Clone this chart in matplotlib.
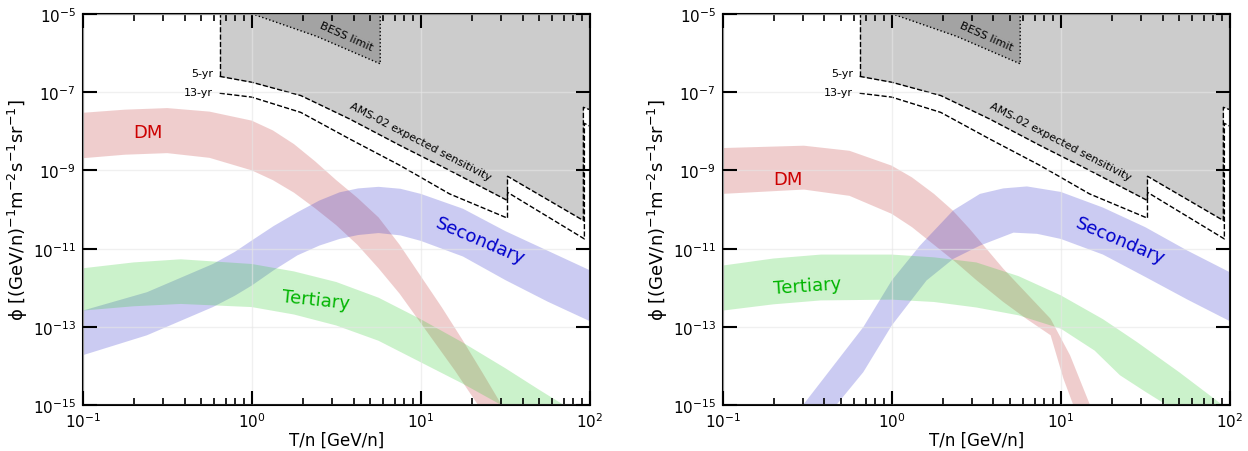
import numpy as np
import matplotlib
matplotlib.use("Agg")
import matplotlib.pyplot as plt
from matplotlib.ticker import LogLocator, NullLocator, NullFormatter, FixedLocator

# all curves stored as log10(T/n [GeV/n]) and log10(flux)

# ---- left panel bands ----
L_dm_up_x = [-1.0, -0.75, -0.5, -0.25, 0.0, 0.125, 0.25, 0.375, 0.5, 0.625, 0.75, 0.875, 1.0, 1.125, 1.25, 1.37, 1.48, 1.55]
L_dm_up_y = [-7.53, -7.45, -7.41, -7.50, -7.73, -7.98, -8.33, -8.77, -9.25, -9.7, -10.2, -10.9, -11.7, -12.5, -13.35, -14.2, -15.0, -15.5]
L_dm_lo_x = [-1.0, -0.75, -0.5, -0.25, 0.0, 0.125, 0.25, 0.375, 0.5, 0.625, 0.75, 0.875, 1.0, 1.1, 1.2, 1.34, 1.45]
L_dm_lo_y = [-8.69, -8.6, -8.56, -8.68, -9.0, -9.25, -9.57, -9.97, -10.4, -10.9, -11.5, -12.15, -12.9, -13.5, -14.1, -15.0, -15.6]

L_sec_up_x = [-1.0, -0.62, -0.23, -0.1, 0.0, 0.13, 0.27, 0.4, 0.52, 0.63, 0.75, 0.88, 1.0, 1.25, 1.5, 1.75, 2.0]
L_sec_up_y = [-12.58, -12.11, -11.39, -11.08, -10.79, -10.42, -10.07, -9.77, -9.56, -9.46, -9.42, -9.47, -9.6, -9.98, -10.55, -11.05, -11.55]
L_sec_lo_x = [-1.0, -0.62, -0.23, -0.1, 0.0, 0.13, 0.27, 0.4, 0.52, 0.63, 0.75, 0.88, 1.0, 1.25, 1.5, 1.75, 2.0]
L_sec_lo_y = [-13.72, -13.21, -12.49, -12.2, -11.94, -11.55, -11.17, -10.92, -10.75, -10.65, -10.6, -10.66, -10.8, -11.2, -11.8, -12.35, -12.85]

L_ter_up_x = [-1.0, -0.7, -0.42, 0.0, 0.25, 0.5, 0.75, 1.0, 1.25, 1.5, 1.7, 1.85, 2.0]
L_ter_up_y = [-11.5, -11.35, -11.27, -11.39, -11.58, -11.85, -12.25, -12.8, -13.4, -14.05, -14.6, -15.0, -15.4]
L_ter_lo_x = [-1.0, -0.7, -0.42, 0.0, 0.25, 0.5, 0.75, 1.0, 1.25, 1.48, 1.6]
L_ter_lo_y = [-12.58, -12.47, -12.41, -12.49, -12.68, -12.96, -13.35, -13.9, -14.45, -15.0, -15.4]

# ---- right panel bands ----
R_dm_up_x = [-1.0, -0.52, -0.25, 0.0, 0.12, 0.25, 0.36, 0.46, 0.56, 0.66, 0.8, 0.94, 1.055, 1.174, 1.25]
R_dm_up_y = [-8.43, -8.37, -8.5, -8.88, -9.18, -9.6, -10.02, -10.49, -11.0, -11.51, -12.15, -12.79, -13.72, -15.0, -15.7]
R_dm_lo_x = [-1.0, -0.52, -0.25, 0.0, 0.12, 0.25, 0.38, 0.5, 0.66, 0.8, 0.94, 1.016, 1.075, 1.15]
R_dm_lo_y = [-9.6, -9.49, -9.65, -10.11, -10.45, -10.9, -11.35, -11.8, -12.36, -12.8, -13.21, -14.32, -15.0, -15.7]

R_sec_up_x = [-0.6, -0.523, -0.168, 0.0, 0.167, 0.364, 0.522, 0.66, 0.8, 1.0, 1.25, 1.5, 1.75, 2.0]
R_sec_up_y = [-15.5, -14.98, -13.0, -11.81, -10.92, -10.02, -9.6, -9.46, -9.41, -9.55, -9.95, -10.45, -11.05, -11.6]
R_sec_lo_x = [-0.4, -0.326, -0.168, 0.0, 0.206, 0.364, 0.522, 0.72, 0.86, 1.0, 1.25, 1.5, 1.75, 2.0]
R_sec_lo_y = [-15.5, -14.98, -14.15, -12.96, -11.81, -11.26, -10.92, -10.59, -10.62, -10.75, -11.15, -11.72, -12.3, -12.85]

R_ter_up_x = [-1.0, -0.7, -0.42, 0.0, 0.25, 0.5, 0.75, 1.0, 1.25, 1.45, 1.7, 1.96, 2.05]
R_ter_up_y = [-11.43, -11.25, -11.15, -11.15, -11.22, -11.35, -11.7, -12.19, -12.8, -13.38, -14.15, -15.0, -15.3]
R_ter_lo_x = [-1.0, -0.7, -0.42, 0.0, 0.25, 0.5, 0.75, 1.0, 1.2, 1.35, 1.5, 1.63, 1.75]
R_ter_lo_y = [-12.58, -12.42, -12.32, -12.3, -12.36, -12.5, -12.7, -13.04, -13.6, -14.23, -14.65, -15.0, -15.4]

# ---- AMS-02 sensitivity and BESS limit (same in both panels) ----
ams5_x = [-0.19, 0.0, 0.29, 0.58, 0.88, 1.17, 1.513, 1.513, 1.962, 1.962, 2.0]
ams5_y = [-6.60, -6.75, -7.09, -7.69, -8.37, -9.0, -9.77, -9.15, -10.28, -7.39, -7.45]
ams13_x = [-0.19, 0.0, 0.29, 0.58, 0.88, 1.17, 1.513, 1.513, 1.968, 1.968, 2.0]
ams13_y = [-7.03, -7.13, -7.52, -8.20, -8.88, -9.60, -10.22, -9.56, -10.75, -7.8, -7.87]

bess_x = [0.0, 0.385, 0.76, 0.76]
bess_y = [-5.0, -5.58, -6.28, -5.0]

yticks = [-15, -13, -11, -9, -7, -5]

c_dm = 'indianred'
c_sec = '#3333cc'
c_ter = '#33cc33'


def band(ax, ux, uy, lx, ly, color, alpha):
    xs = np.concatenate([ux, lx[::-1]])
    ys = np.concatenate([uy, ly[::-1]])
    ax.fill(10.0 ** xs, 10.0 ** ys, color=color, alpha=alpha, lw=0)


def setup(ax, bands, labels):
    ax.set_xscale('log')
    ax.set_yscale('log')

    # AMS-02 shaded region + BESS limit
    x5 = 10.0 ** np.array(ams5_x)
    y5 = 10.0 ** np.array(ams5_y)
    ax.fill_between(x5, y5, 1e-5, color='0.8', lw=0)
    ax.fill(10.0 ** np.array(bess_x), 10.0 ** np.array(bess_y), color='0.64', lw=0)
    ax.plot(10.0 ** np.array(bess_x), 10.0 ** np.array(bess_y), 'k:', lw=1)
    ax.plot(x5, y5, 'k--', lw=1)
    ax.plot([x5[0], x5[0]], [y5[0], 1e-5], 'k--', lw=1)
    ax.plot(10.0 ** np.array(ams13_x), 10.0 ** np.array(ams13_y), 'k--', lw=1)

    for b in bands:
        band(ax, *b)

    ax.text(10 ** -0.23, 10 ** -6.51, '5-yr', ha='right', va='center', fontsize=8)
    ax.text(10 ** -0.23, 10 ** -6.99, '13-yr', ha='right', va='center', fontsize=8)
    ax.text(10 ** 0.56, 10 ** -5.56, 'BESS limit', ha='center', va='center',
            fontsize=8, rotation=-24)
    ax.text(10 ** 1.0, 10 ** -8.24, 'AMS-02 expected sensitivity', ha='center',
            va='center', fontsize=8, rotation=-27.5)
    for (tx, ty, s, col, rot) in labels:
        ax.text(10 ** tx, 10 ** ty, s, color=col, fontsize=13, rotation=rot,
                ha='center', va='center')

    ax.set_xlim(0.1, 100)
    ax.set_ylim(1e-15, 1e-5)
    ax.yaxis.set_major_locator(FixedLocator([10.0 ** t for t in yticks]))
    ax.yaxis.set_minor_locator(NullLocator())
    ax.yaxis.set_minor_formatter(NullFormatter())
    ax.xaxis.set_major_locator(LogLocator(base=10))
    ax.xaxis.set_minor_locator(LogLocator(base=10, subs=np.arange(2, 10)))
    ax.xaxis.set_minor_formatter(NullFormatter())

    ax.grid(True, which='major', color='0.9', alpha=0.6, lw=1)
    ax.set_axisbelow(False)
    ax.tick_params(which='both', direction='in', top=True, right=True, labelsize=11)
    ax.tick_params(axis='x', pad=4)
    ax.tick_params(axis='y', pad=5)
    ax.tick_params(which='major', length=10, width=1.5)
    ax.tick_params(which='minor', length=5, width=1.2)
    for sp in ax.spines.values():
        sp.set_linewidth(1.5)
    ax.set_xlabel('T/n [GeV/n]', fontsize=12, labelpad=1)
    ax.set_ylabel(r'ϕ [(GeV/n)$^{-1}$m$^{-2}$s$^{-1}$sr$^{-1}$]', fontsize=13, labelpad=2)


fig = plt.figure(figsize=(12.48, 4.52), dpi=100)
ax1 = fig.add_axes([0.0663, 0.1009, 0.4063, 0.8666])
ax2 = fig.add_axes([0.5791, 0.1009, 0.4063, 0.8666])

setup(ax1,
      [(L_dm_up_x, L_dm_up_y, L_dm_lo_x, L_dm_lo_y, c_dm, 0.3),
       (L_sec_up_x, L_sec_up_y, L_sec_lo_x, L_sec_lo_y, c_sec, 0.25),
       (L_ter_up_x, L_ter_up_y, L_ter_lo_x, L_ter_lo_y, c_ter, 0.25)],
      [(-0.612, -8.01, 'DM', '#cc0000', 0),
       (0.378, -12.3, 'Tertiary', '#00b400', -6),
       (1.351, -10.79, 'Secondary', '#0000cc', -23)])

setup(ax2,
      [(R_dm_up_x, R_dm_up_y, R_dm_lo_x, R_dm_lo_y, c_dm, 0.3),
       (R_sec_up_x, R_sec_up_y, R_sec_lo_x, R_sec_lo_y, c_sec, 0.25),
       (R_ter_up_x, R_ter_up_y, R_ter_lo_x, R_ter_lo_y, c_ter, 0.25)],
      [(-0.612, -9.23, 'DM', '#cc0000', 0),
       (-0.497, -11.94, 'Tertiary', '#00b400', 4),
       (1.351, -10.79, 'Secondary', '#0000cc', -23)])

fig.savefig('out.png', dpi=100)
